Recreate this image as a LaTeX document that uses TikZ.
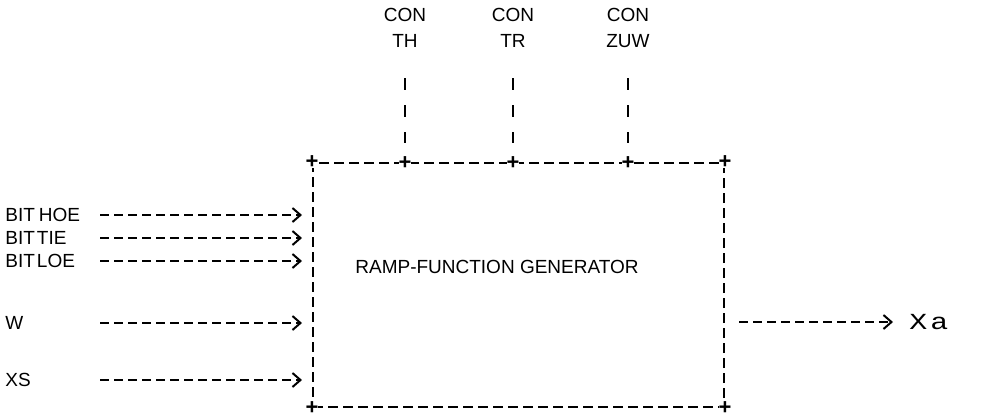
\documentclass[tikz,border=0pt]{standalone}
\usepackage{fontspec}
\setmainfont{Liberation Sans}
\newfontfamily\xafont[FakeStretch=1.3]{Liberation Mono}
\usetikzlibrary{arrows.meta,positioning,calc}

\begin{document}
\begin{tikzpicture}[
    x=0.5pt, y=-0.5pt,
    font=\fontsize{9.5}{13}\selectfont,
    box/.style={draw, line width=1pt, dash pattern=on 5pt off 2.5pt,
      minimum width=205.5pt, minimum height=122pt, inner sep=0},
    inlabel/.style={anchor=west, inner sep=0},
    con/.style={align=center, inner sep=1pt},
    plus/.style={inner sep=0, font=\bfseries\fontsize{11}{11}\selectfont},
    arrow/.style={line width=1pt, dash pattern=on 4.5pt off 2.5pt,
      -{Straight Barb[length=4pt, width=7pt, line width=1pt]}},
    vline/.style={line width=1pt, dash pattern=on 6pt off 7.5pt}
  ]
    \useasboundingbox (0,0) rectangle (982,418);
    \node[box] (rfg) at (518.5,285) {};
    \node (title) at (497,267) {RAMP-FUNCTION GENERATOR};
    % + marks on the frame
    \coordinate (pth) at (405,163);
    \coordinate (ptr) at (513,163);
    \coordinate (pzuw) at (628,163);
    \foreach \p in {rfg.north west, rfg.north east, rfg.south west, rfg.south east, pth, ptr, pzuw}
      \node[plus, fill=white] at (\p) {+};
    % control inputs
    \node[con] (th) at (405,28) {CON\\TH};
    \node[con] (tr) at (513,28) {CON\\TR};
    \node[con] (zuw) at (628,28) {CON\\ZUW};
    \draw[vline, shorten <=14pt, shorten >=10pt] (th) -- (pth);
    \draw[vline, shorten <=14pt, shorten >=10pt] (tr) -- (ptr);
    \draw[vline, shorten <=14pt, shorten >=10pt] (zuw) -- (pzuw);
    % signal inputs
    \coordinate (inx) at (100,0);
    \node[inlabel] (hoe) at (5,215) {BIT\kern2pt HOE};
    \node[inlabel] (tie) at (5,238) {BIT\kern1pt TIE};
    \node[inlabel] (loe) at (5,261) {BIT\kern1pt LOE};
    \node[inlabel] (w) at (5,323) {W};
    \node[inlabel] (xs) at (5,380) {XS};
    \foreach \n in {hoe, tie, loe, w, xs}
      \draw[arrow, shorten >=5pt] (\n -| inx) -- (\n -| rfg.west);
    % output
    \node[inlabel, font=\xafont\fontsize{11.5}{12}\selectfont] (xa) at (909,322) {X\kern1.5pt a};
    \draw[arrow, shorten <=7pt, shorten >=8pt] (rfg.east |- xa) -- (xa.west);
  \end{tikzpicture}
\end{document}
